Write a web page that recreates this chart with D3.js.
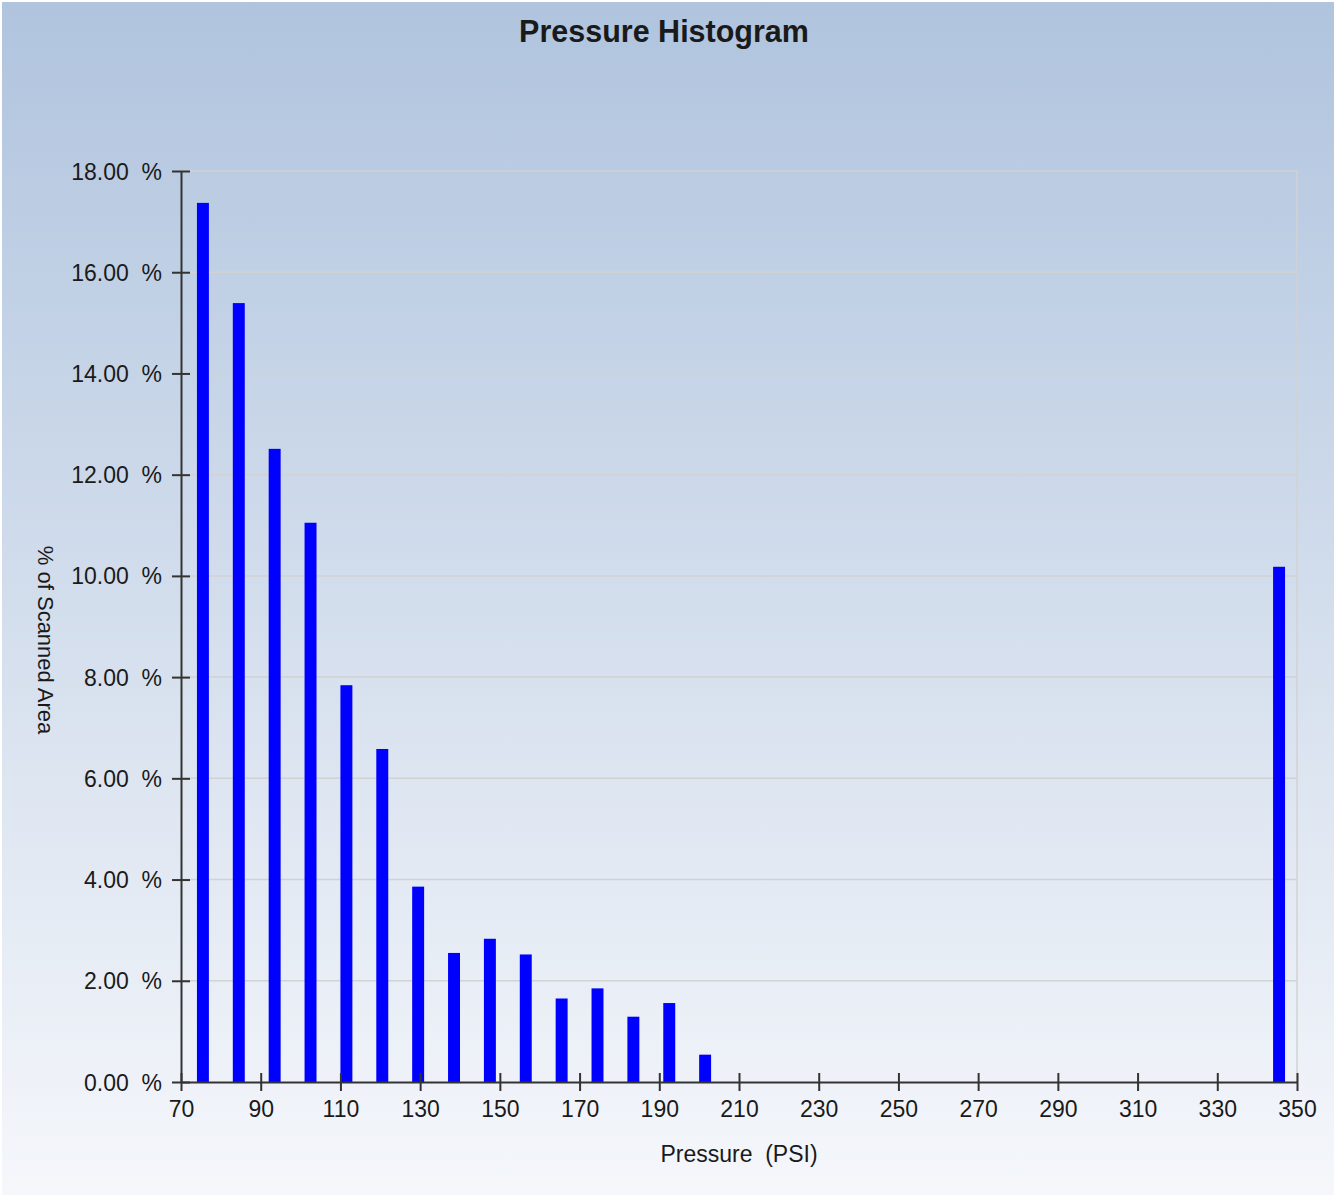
<!DOCTYPE html>
<html>
<head>
<meta charset="utf-8">
<script src="https://cdn.jsdelivr.net/npm/d3@7"></script>
<style>
  html, body { margin: 0; padding: 0; background: #fff; }
  svg { display: block; }
  text { font-family: "Liberation Sans", Arial, sans-serif; fill: #1a1a1a; }
</style>
</head>
<body>
<div id="chart"></div>
<script>
/* Pressure Histogram — % of scanned area per pressure bin */
var binCenters = [75.5, 84.5, 93.5, 102.5, 111.5, 120.5, 129.5, 138.5, 147.5, 156.5, 165.5, 174.5, 183.5, 192.5, 201.5, 345.5];
var percents   = [17.37, 15.39, 12.51, 11.05, 7.84, 6.58, 3.86, 2.55, 2.83, 2.52, 1.65, 1.85, 1.29, 1.56, 0.54, 10.18];
var xTicks = [70, 90, 110, 130, 150, 170, 190, 210, 230, 250, 270, 290, 310, 330, 350];
var yTicks = [0, 2, 4, 6, 8, 10, 12, 14, 16, 18];

(function () {
  "use strict";

  var W = 1336, H = 1197;
  var svg = d3.select("#chart").append("svg").attr("width", W).attr("height", H);

  // background gradient
  var grad = svg.append("defs").append("linearGradient")
    .attr("id", "bg").attr("x1", 0).attr("y1", 0).attr("x2", 0).attr("y2", 1);
  grad.append("stop").attr("offset", "0%").attr("stop-color", "#b0c4de");
  grad.append("stop").attr("offset", "100%").attr("stop-color", "#f5f7fb");
  svg.append("rect").attr("x", 2).attr("y", 2).attr("width", W - 4).attr("height", H - 4)
    .attr("fill", "url(#bg)");

  var x = d3.scaleLinear().domain([70, 350]).range([181, 1297]);
  var y = d3.scaleLinear().domain([0, 18]).range([1082, 171]);

  // gridlines
  svg.append("g").selectAll("line").data(yTicks.filter(function (d) { return d > 0; }))
    .enter().append("line")
    .attr("x1", x(70)).attr("x2", x(350))
    .attr("y1", function (d) { return y(d); }).attr("y2", function (d) { return y(d); })
    .attr("stroke", "#d2d2d2").attr("stroke-width", 1.5);
  // right border
  svg.append("line").attr("x1", x(350)).attr("x2", x(350)).attr("y1", y(18)).attr("y2", y(0))
    .attr("stroke", "#d2d2d2").attr("stroke-width", 1.5);

  // bars
  svg.append("g").selectAll("rect").data(binCenters)
    .enter().append("rect")
    .attr("x", function (d) { return x(d - 1.5); })
    .attr("width", function (d) { return x(d + 1.5) - x(d - 1.5); })
    .attr("y", function (d, i) { return y(percents[i]); })
    .attr("height", function (d, i) { return y(0) - y(percents[i]); })
    .attr("fill", "#0000ff");

  // axes
  var yAxis = d3.axisLeft(y).tickValues(yTicks).tickSizeInner(9).tickSizeOuter(0)
    .tickFormat(function (d) { return d3.format(".2f")(d) + "  %"; });
  var xAxis = d3.axisBottom(x).tickValues(xTicks).tickSizeInner(9).tickSizeOuter(0);

  var gy = svg.append("g").attr("transform", "translate(" + x(70) + ",0)").call(yAxis);
  var gx = svg.append("g").attr("transform", "translate(0," + y(0) + ")").call(xAxis);

  [gy, gx].forEach(function (g) {
    g.select(".domain").attr("stroke", "#333").attr("stroke-width", 2);
    g.selectAll(".tick line").attr("stroke", "#333").attr("stroke-width", 2);
    g.selectAll(".tick text").attr("font-size", 23)
      .attr("font-family", "\"Liberation Sans\", Arial, sans-serif").attr("fill", "#1a1a1a");
  });
  // ticks cross the axis line
  gy.selectAll(".tick line").attr("x1", 9);
  gy.selectAll(".tick text").attr("x", -19).attr("dy", "0.35em").style("white-space", "pre");
  gx.selectAll(".tick line").attr("y1", -9);
  gx.selectAll(".tick text").attr("y", 19).attr("dy", "0.71em");

  // title
  svg.append("text").attr("x", 664).attr("y", 42).attr("text-anchor", "middle")
    .attr("font-size", 30.5).attr("font-weight", "bold").text("Pressure Histogram");

  // axis labels
  svg.append("text").attr("x", 739).attr("y", 1162).attr("text-anchor", "middle")
    .attr("font-size", 23).style("white-space", "pre").text("Pressure  (PSI)");
  svg.append("text").attr("transform", "translate(38,640) rotate(90)")
    .attr("text-anchor", "middle").attr("font-size", 22)
    .text("% of Scanned Area");
})();
</script>
</body>
</html>
